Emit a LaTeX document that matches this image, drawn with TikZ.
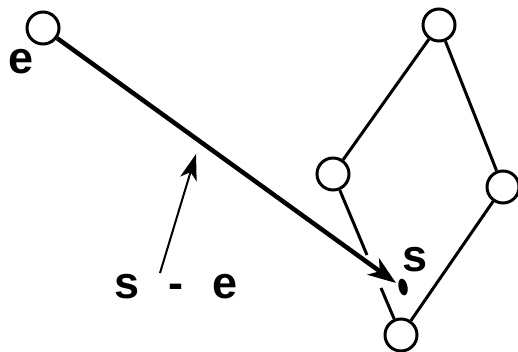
\documentclass[tikz,border=0pt]{standalone}
\usepackage{fontspec}
\setmainfont{Liberation Sans}
\usetikzlibrary{arrows.meta,shapes.geometric}
\tikzset{
  nd/.style={circle, fill=white, draw=black, minimum size=32pt, line width=3pt, inner sep=0pt},
  pt/.style={ellipse, fill=black, minimum width=9pt, minimum height=17pt, inner sep=0pt, rotate=12},
  ed/.style={draw=black, line width=3pt},
  ve/.style={draw=black, line width=4.5pt, -{Stealth[length=28pt,width=20pt,inset=8pt]}},
  pe/.style={draw=black, line width=2pt, -{Stealth[length=26pt,width=17pt,inset=7pt]}},
  lbl/.style={font=\fontsize{45}{45}\selectfont\bfseries, inner sep=0pt}
}
\begin{document}
\begin{tikzpicture}[x=1pt, y=-1pt]
  \useasboundingbox (0,0) rectangle (518,352);
  % lattice
  \node[nd] (e) at (43,28) {};
  \node[nd] (t) at (439,25) {};
  \node[nd] (l) at (333,174) {};
  \node[nd] (r) at (503,187) {};
  \node[nd] (b) at (401,335) {};
  \node[pt] (s) at (403,287) {};
  \node[lbl] (le) at (21,62) {e};
  \node[lbl] (ls) at (415,260) {s};
  \node[lbl] (ldiff) at (176,287) {s\hspace{0.65em}-\hspace{0.65em}e};
  \coordinate (g1) at (367,255);
  \coordinate (g2) at (381,288);
  \coordinate (tip) at (396,283);
  \coordinate (tail) at (160,273);
  \coordinate (aim) at (196,154);
  \draw[ed] (t)--(l); \draw[ed] (t)--(r);
  \draw[ed] (r)--(b);
  \draw[ed] (l)--(g1); \draw[ed] (g2)--(b);
  \draw[ve] (e)--(tip);
  \draw[pe] (tail)--(aim);
\end{tikzpicture}
\end{document}
